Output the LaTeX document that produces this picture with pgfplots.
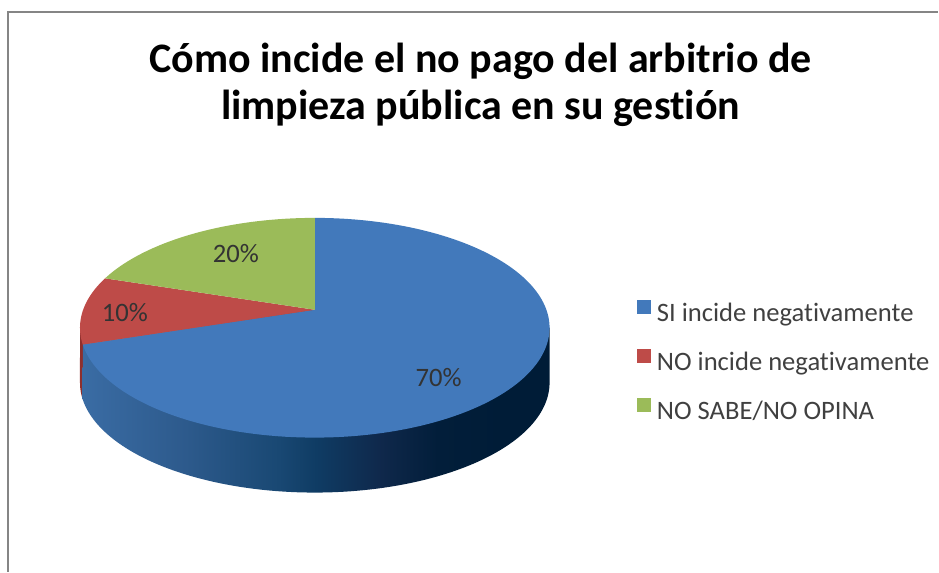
\documentclass[border=0pt]{standalone}
\usepackage{pgfplots}
\pgfplotsset{compat=1.18}
\usepackage{pgfplotstable}
\usepackage{fontspec}
\setmainfont{Carlito}[Ligatures=NoCommon]

\definecolor{topblue}{HTML}{4279BB}
\definecolor{topred}{HTML}{BE4B48}
\definecolor{topgreen}{HTML}{9BBB59}
\definecolor{sidered}{HTML}{8E2F2D}
\definecolor{frame}{HTML}{858585}
\definecolor{sA}{HTML}{3A6CA4}
\definecolor{sB}{HTML}{2D5A8C}
\definecolor{sC}{HTML}{194873}
\definecolor{sD}{HTML}{0F3C64}
\definecolor{sE}{HTML}{0F284B}
\definecolor{sF}{HTML}{021E3A}
\definecolor{sG}{HTML}{001C37}

\pgfdeclarehorizontalshading{bside}{100bp}{color(0bp)=(sA); color(25bp)=(sA); color(36bp)=(sB); color(46bp)=(sC); color(50bp)=(sD); color(57bp)=(sE); color(63bp)=(sF); color(70bp)=(sG); color(75bp)=(sG); color(100bp)=(sG)}

\pgfplotstableread{
key value
SI 70
NO 10
NS 20
}\piedata

\begin{document}%
\begin{tikzpicture}
\pgfplotstablegetelem{0}{value}\of\piedata \let\va\pgfplotsretval
\pgfplotstablegetelem{1}{value}\of\piedata \let\vb\pgfplotsretval
\pgfplotstablegetelem{2}{value}\of\piedata \let\vc\pgfplotsretval
% slice boundary angles (clockwise from 12 o'clock)
\pgfmathsetmacro\aA{90}
\pgfmathsetmacro\aB{\aA-3.6*\va}
\pgfmathsetmacro\aC{\aB-3.6*\vb}
\pgfmathsetmacro\aD{\aC-3.6*\vc}
% perspective ellipse parameters (pixels)
\def\cx{315}\def\cy{310}\def\RA{231.8}\def\RB{107}\def\ee{0.1636}\def\dd{55}
\pgfmathsetmacro\sL{-180+asin(\ee)}
\pgfmathsetmacro\sR{-asin(\ee)}
\pgfmathsetmacro\xB{\cx+\RA*cos(\aB)/(1+\ee*sin(\aB))}
\pgfmathsetmacro\yB{\cy-\RB*sin(\aB)/(1+\ee*sin(\aB))}
\pgfmathsetmacro\xR{\cx+\RA*cos(\sR)/(1+\ee*sin(\sR))}
\pgfmathsetmacro\yR{\cy-\RB*sin(\sR)/(1+\ee*sin(\sR))}
\pgfmathsetmacro\xL{\cx+\RA*cos(\sL)/(1+\ee*sin(\sL))}
\pgfmathsetmacro\yL{\cy-\RB*sin(\sL)/(1+\ee*sin(\sL))}
\begin{axis}[
  scale only axis, width=469.5pt, height=286pt,
  xmin=0, xmax=939, ymin=0, ymax=572, y dir=reverse,
  hide axis, clip=false,
  declare function={px(\t)=\cx+\RA*cos(\t)/(1+\ee*sin(\t)); py(\t)=\cy-\RB*sin(\t)/(1+\ee*sin(\t));},
  legend style={at={(axis cs:637,300)}, anchor=north west, draw=none, fill=none,
    inner sep=0pt, column sep=3pt, row sep=10.5pt,
    font=\fontsize{13.3}{15}\selectfont, text=black!75,
    nodes={inner sep=0pt, text height=9.5pt, text depth=3pt}},
  legend cell align=left,
  legend image code/.code={\fill[#1] (0pt,0.6pt) rectangle (7pt,7.6pt);},
]
\path (axis cs:0,0) rectangle (axis cs:939,572);
% frame
\draw[frame, line width=0.7pt] (axis cs:8,572) -- (axis cs:8,12) -- (axis cs:939,12);
% sides
\addplot[forget plot, draw=none, fill=sidered, domain=\sL:\aB, samples=10, variable=\t]
  ({px(\t)},{py(\t)+\dd}) -- (axis cs:\xB,\yB) -- (axis cs:\cx,\cy) -- (axis cs:\xL,\yL) -- cycle;
\addplot[forget plot, draw=none, shading=bside, domain=\aB:\sR, samples=120, variable=\t]
  ({px(\t)},{py(\t)+\dd}) -- (axis cs:\xR,\yR) -- (axis cs:\cx,\cy) -- (axis cs:\xB,\yB) -- cycle;
% top surface
\addplot[draw=none, fill=topblue, domain=\aB:\aA, samples=150, variable=\t]
  ({px(\t)},{py(\t)}) -- (axis cs:\cx,\cy) -- cycle;
\addlegendentry{SI incide negativamente}
\addplot[draw=none, fill=topred, domain=\aC:\aB, samples=30, variable=\t]
  ({px(\t)},{py(\t)}) -- (axis cs:\cx,\cy) -- cycle;
\addlegendentry{NO incide negativamente}
\addplot[draw=none, fill=topgreen, domain=\aD:\aC, samples=60, variable=\t]
  ({px(\t)},{py(\t)}) -- (axis cs:\cx,\cy) -- cycle;
\addlegendentry{NO SABE/NO OPINA}
% data labels
\node[anchor=base, font=\fontsize{13.3}{15}\selectfont, text=black!80] at (axis cs:439,387) {70\%};
\node[anchor=base, font=\fontsize{13.3}{15}\selectfont, text=black!80] at (axis cs:125,322) {10\%};
\node[anchor=base, font=\fontsize{13.3}{15}\selectfont, text=black!80] at (axis cs:236,263) {20\%};
% title
\node[anchor=base, font=\fontsize{21}{25}\selectfont\bfseries] at (axis cs:481,73) {Cómo incide el no pago del arbitrio de};
\node[anchor=base, font=\fontsize{21}{25}\selectfont\bfseries] at (axis cs:481,120) {limpieza pública en su gestión};
\end{axis}
\end{tikzpicture}%
\end{document}
